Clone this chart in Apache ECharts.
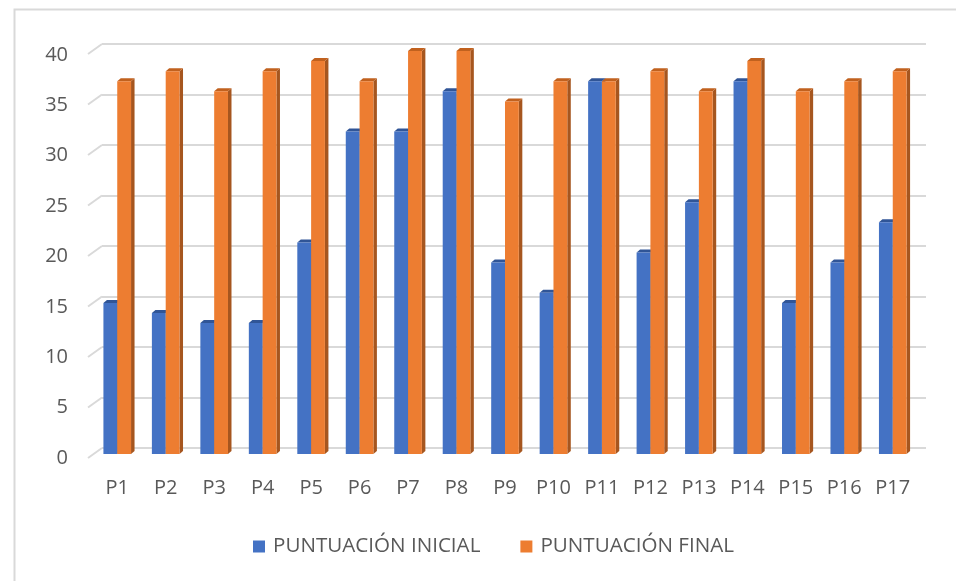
<!DOCTYPE html>
<html>
<head>
<meta charset="utf-8">
<script src="https://cdn.jsdelivr.net/npm/echarts@6/dist/echarts.min.js"></script>
<style>
html,body{margin:0;padding:0;background:#fff;}
#chart{width:956px;height:581px;}
</style>
</head>
<body>
<div id="chart"></div>
<script>
var categories = ['P1','P2','P3','P4','P5','P6','P7','P8','P9','P10','P11','P12','P13','P14','P15','P16','P17'];
var inicial = [15,14,13,13,21,32,32,36,19,16,37,20,25,37,15,19,23];
var final = [37,38,36,38,39,37,40,40,35,37,37,38,36,39,36,37,38];
var yTicks = [0,5,10,15,20,25,30,35,40];
var seriesNames = ['PUNTUACIÓN INICIAL','PUNTUACIÓN FINAL'];

var FONT = '"Open Sans", "Noto Sans", sans-serif';
var colors = [
  {front:'#4472C4', side:'#2F528F', top:'#305597'},
  {front:'#ED7D31', side:'#A6561F', top:'#C1611E'}
];

function make3DBar(seriesIdx){
  return function(params, api){
    var idx = api.value(0), val = api.value(1);
    var top = api.coord([idx, val]);
    var base = api.coord([idx, 0]);
    var band = api.size([1,0])[0];
    var w = band * 0.285;
    var x0 = seriesIdx === 0 ? top[0] - w : top[0];
    var x1 = x0 + w;
    var yT = top[1], yB = base[1];
    var dx = 3.5, dy = 3;
    var c = colors[seriesIdx];
    return {
      type:'group',
      children:[
        {type:'polygon', shape:{points:[[x1,yT],[x1+dx,yT-dy],[x1+dx,yB-dy],[x1,yB]]}, style:{fill:c.side}},
        {type:'polygon', shape:{points:[[x0,yT],[x0+dx,yT-dy],[x1+dx,yT-dy],[x1,yT]]}, style:{fill:c.top}},
        {type:'rect', shape:{x:x0, y:yT, width:w, height:yB-yT}, style:{fill:c.front}}
      ]
    };
  };
}

var chart = echarts.init(document.getElementById('chart'), null, {renderer:'canvas'});
var option = {
  animation:false,
  backgroundColor:'#ffffff',
  graphic:[{type:'rect', left:12, top:7, shape:{width:1100, height:800}, style:{fill:'none', stroke:'#d9d9d9', lineWidth:2}, silent:true, z:-10}],
  grid:[
    {left:93, right:39, top:51, bottom:127},   // bars
    {left:102, right:30, top:44, bottom:133},  // back wall
    {left:88, right:39, top:55, bottom:123}    // front labels
  ],
  xAxis:[
    {type:'category', gridIndex:0, data:categories, axisLine:{show:false}, axisTick:{show:false},
     axisLabel:{color:'#595959', fontSize:20, fontFamily:FONT, margin:24, interval:0}},
    {type:'category', gridIndex:1, data:categories, show:false},
    {type:'category', gridIndex:2, data:categories, show:false}
  ],
  yAxis:[
    {type:'value', gridIndex:0, min:0, max:40, interval:5, show:false, splitLine:{show:false}},
    {type:'value', gridIndex:1, min:0, max:40, interval:5, axisLine:{show:false}, axisTick:{show:false}, axisLabel:{show:false},
     splitLine:{show:true, lineStyle:{color:'#d9d9d9', width:2}}},
    {type:'value', gridIndex:2, min:0, max:40, interval:5, axisLine:{show:false}, axisTick:{show:false}, splitLine:{show:false},
     axisLabel:{color:'#595959', fontSize:20, fontFamily:FONT, margin:20}}
  ],
  legend:{
    data:seriesNames, left:253, top:536, padding:0, itemWidth:12, itemHeight:12, itemGap:40, icon:'rect',
    textStyle:{color:'#595959', fontSize:20.6, fontFamily:FONT, padding:[0,0,0,3]}
  },
  series:[
    {
      type:'custom', name:'wallTicks', xAxisIndex:1, yAxisIndex:1, silent:true, z:1,
      data:yTicks.map(function(v){return [0, v];}),
      renderItem:function(params, api){
        var p = api.coord([0, api.value(1)]);
        var left = params.coordSys.x;
        return {type:'line', shape:{x1:left-14, y1:p[1]+10, x2:left, y2:p[1]}, style:{stroke:'#d9d9d9', lineWidth:2}};
      }
    },
    {
      type:'custom', name:seriesNames[0], xAxisIndex:0, yAxisIndex:0, z:3,
      itemStyle:{color:colors[0].front},
      data:inicial.map(function(v,i){return [i, v];}),
      renderItem:make3DBar(0)
    },
    {
      type:'custom', name:seriesNames[1], xAxisIndex:0, yAxisIndex:0, z:4,
      itemStyle:{color:colors[1].front},
      data:final.map(function(v,i){return [i, v];}),
      renderItem:make3DBar(1)
    }
  ]
};
chart.setOption(option);
</script>
</body>
</html>
